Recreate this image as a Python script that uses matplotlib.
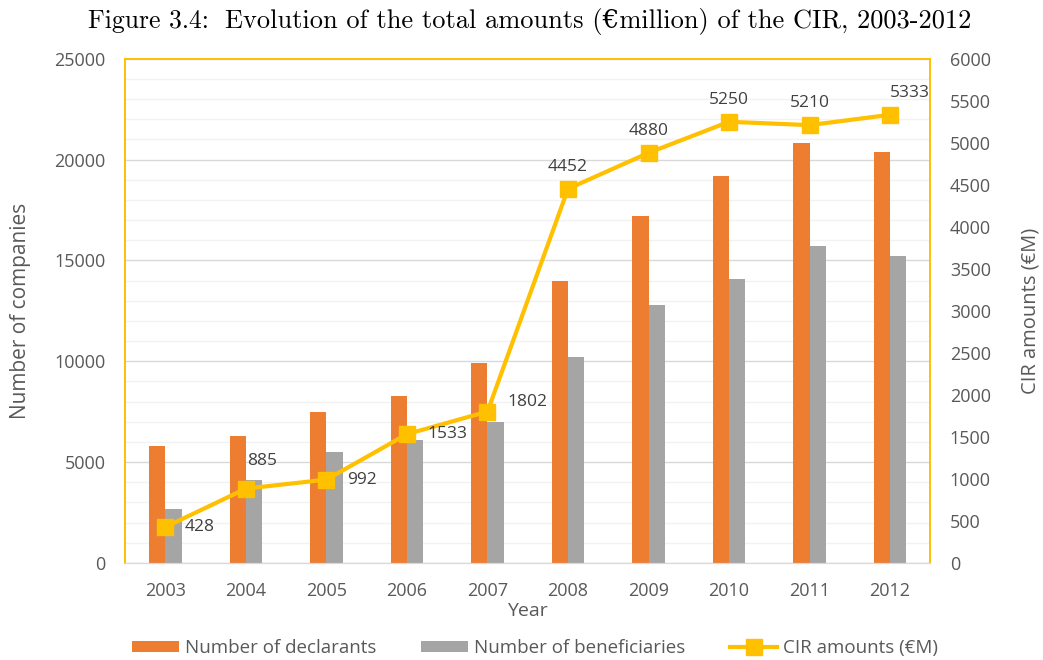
import numpy as np
import matplotlib.pyplot as plt
from matplotlib.ticker import MultipleLocator

years = ['2003', '2004', '2005', '2006', '2007', '2008', '2009', '2010', '2011', '2012']
declarants = [5800, 6300, 7500, 8300, 9900, 14000, 17200, 19200, 20800, 20400]
beneficiaries = [2700, 4100, 5500, 6100, 7000, 10200, 12800, 14100, 15700, 15200]
cir_amounts = [428, 885, 992, 1533, 1802, 4452, 4880, 5250, 5210, 5333]

# label offsets (points) and alignment for the line labels
lab_off = [(14, 0, 'left', 'center'), (1, 14, 'left', 'bottom'), (15, 0, 'left', 'center'),
           (15, 0, 'left', 'center'), (14, 7, 'left', 'center'), (0, 10, 'center', 'bottom'),
           (0, 10, 'center', 'bottom'), (0, 10, 'center', 'bottom'), (0, 10, 'center', 'bottom'),
           (0, 10, 'left', 'bottom')]

orange = '#ED7D31'
grey = '#A5A5A5'
gold = '#FFC000'
txt = '#595959'

plt.rcParams['font.family'] = ['Open Sans', 'DejaVu Sans']

fig = plt.figure(figsize=(10.43, 6.6), dpi=100)
ax = fig.add_axes([0.12, 0.147, 0.772, 0.764])
x = np.arange(len(years))
w = 0.2
b1 = ax.bar(x - w / 2, declarants, w, color=orange, label='Number of declarants', zorder=2)
b2 = ax.bar(x + w / 2, beneficiaries, w, color=grey, label='Number of beneficiaries', zorder=2)

ax.set_xlim(-0.5, 9.5)
ax.set_ylim(0, 25000)
ax.yaxis.set_major_locator(MultipleLocator(5000))
ax.yaxis.set_minor_locator(MultipleLocator(1000))
ax.grid(which='minor', axis='y', color='#F2F2F2', lw=1, zorder=0)
ax.grid(which='major', axis='y', color='#D9D9D9', lw=1, zorder=0)
ax.set_axisbelow(True)
ax.set_xticks(x)
ax.set_xticklabels(years)
ax.tick_params(which='both', length=0, labelsize=13, colors=txt, pad=14)
ax.set_ylabel('Number of companies', fontsize=15, color=txt, va='center')
ax.yaxis.set_label_coords(-0.130, 0.5)
ax.set_xlabel('Year', fontsize=14, color=txt, va='top')
ax.xaxis.set_label_coords(0.5, -0.078)

ax2 = ax.twinx()
ln, = ax2.plot(x, cir_amounts, color=gold, lw=3, marker='s', markersize=12,
               label='CIR amounts (€M)', zorder=3)
ax2.set_ylim(0, 6000)
ax2.yaxis.set_major_locator(MultipleLocator(500))
ax2.tick_params(length=0, labelsize=13, colors=txt, pad=14)
ax2.set_ylabel('CIR amounts (€M)', fontsize=14.5, color=txt, va='center')
ax2.yaxis.set_label_coords(1.124, 0.5)

for i, v in enumerate(cir_amounts):
    dx, dy, ha, va = lab_off[i]
    ax2.annotate(str(v), (x[i], v), xytext=(dx, dy), textcoords='offset points',
                 ha=ha, va=va, fontsize=12.5, color='#404040')

for a in (ax, ax2):
    for s in ('left', 'right', 'top'):
        a.spines[s].set_color(gold)
        a.spines[s].set_linewidth(1.2)
    a.spines['bottom'].set_color('#D9D9D9')

fig.legend(handles=[b1, b2, ln], loc='center', bbox_to_anchor=(0.513, 0.018),
           ncol=3, frameon=False, fontsize=13.5, labelcolor=txt, handlelength=2.5,
           handleheight=0.6, handletextpad=0.3, columnspacing=2.4)

ser = ['cmr10', 'DejaVu Serif']
fig.text(88 / 1043, 0.958, 'Figure 3.4:', ha='left', va='baseline', fontsize=18.5, family=ser)
fig.text(225 / 1043, 0.958, 'Evolution of the total amounts (€million) of the CIR, 2003-2012',
         ha='left', va='baseline', fontsize=19, family=ser)

fig.savefig('out.png', dpi=100)
